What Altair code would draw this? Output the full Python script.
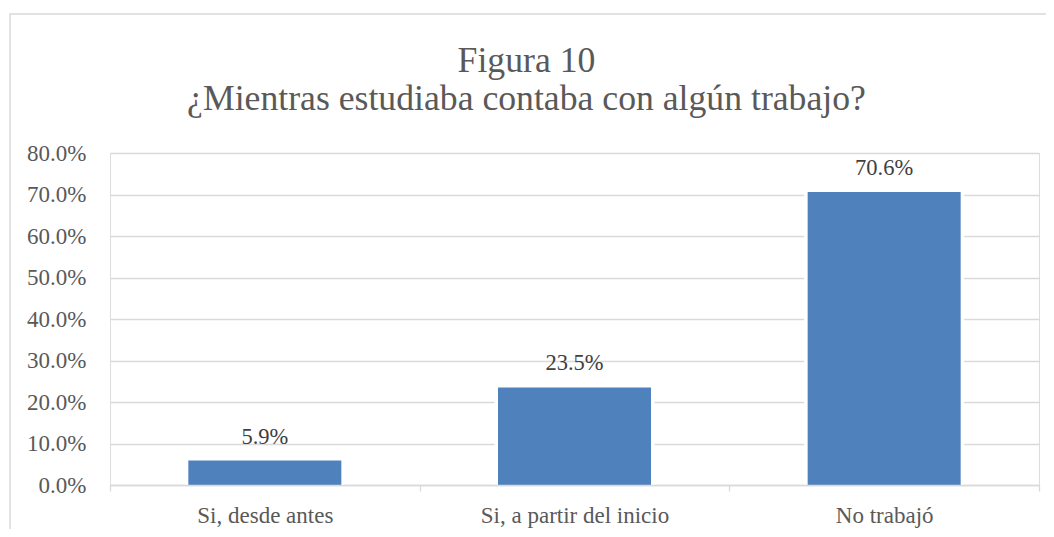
import altair as alt
import pandas as pd

categories = ["Si, desde antes", "Si, a partir del inicio", "No trabajó"]
values = [0.059, 0.235, 0.706]
title_lines = ["Figura 10", "¿Mientras estudiaba contaba con algún trabajo?"]

df = pd.DataFrame({"cat": categories, "val": values})

W, H = 929, 332
FONT = "Liberation Serif"
TXT = "#595959"

x_enc = alt.X("cat:N", sort=categories, title=None,
              scale=alt.Scale(paddingInner=0.0, paddingOuter=0.0),
              axis=alt.Axis(labelAngle=0, labelFont=FONT, labelFontSize=23,
                            labelColor=TXT, domainColor="#d9d9d9", domainWidth=1.3,
                            tickColor="#d9d9d9", tickSize=6, tickWidth=1.3,
                            tickBand="extent", labelPadding=31, labelLimit=400,
                            labelBaseline="alphabetic", zindex=1))
y_enc = alt.Y("val:Q", title=None,
              scale=alt.Scale(domain=[0, 0.8]),
              axis=alt.Axis(values=[0, 0.1, 0.2, 0.3, 0.4, 0.5, 0.6, 0.7, 0.8],
                            format=".1%", labelFont=FONT, labelFontSize=23,
                            labelColor=TXT, ticks=False, domain=False,
                            labelPadding=24, gridColor="#d9d9d9", gridWidth=1.3))

base = alt.Chart(df).encode(x=x_enc, y=y_enc)

halo = base.mark_bar(size=160, color="white")
bars = base.mark_bar(size=153, color="#4F81BD")
labels = base.mark_text(font=FONT, fontSize=22.5, color="#404040",
                        baseline="alphabetic", dy=-17).encode(text=alt.Text("val:Q", format=".1%"))

frame = alt.Chart(pd.DataFrame({"k": [0]})).mark_rect(
    fillOpacity=0, stroke="#d9d9d9", strokeWidth=1.5
).encode(x=alt.value(-100), x2=alt.value(W + 200), y=alt.value(-139), y2=alt.value(H + 200))

chart = alt.layer(frame, halo, bars, labels).properties(
    width=W, height=H,
    title=alt.TitleParams(title_lines, font=FONT, fontSize=35.7, fontWeight="normal",
                          color=TXT, anchor="middle", dx=-48, dy=173, baseline="bottom",
                          offset=34, lineHeight=38),
    autosize=alt.AutoSizeParams(type="none"),
    padding={"left": 102, "top": 145, "right": 7, "bottom": 44},
).configure_view(strokeWidth=0).configure(background="white")

chart.save("out.html", embed_options={"renderer": "svg", "actions": False})
